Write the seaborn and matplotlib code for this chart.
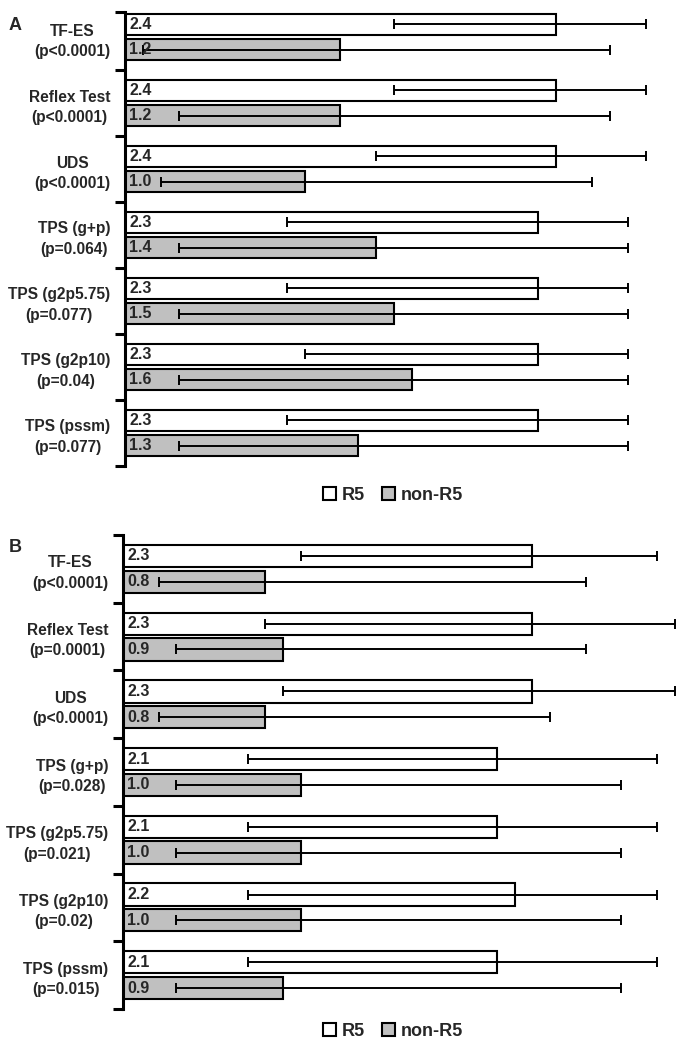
import matplotlib
matplotlib.use("Agg")
import matplotlib.pyplot as plt
from matplotlib.patches import Patch
import seaborn as sns
import pandas as pd
import numpy as np

# ---------------- data ----------------
categories_a = ["TF-ES\n(p<0.0001)", "Reflex Test\n(p<0.0001)", "UDS\n(p<0.0001)",
                "TPS (g+p)\n(p=0.064)", "TPS (g2p5.75)\n(p=0.077)", "TPS (g2p10)\n(p=0.04)",
                "TPS (pssm)\n(p=0.077)"]
r5_a = [2.4, 2.4, 2.4, 2.3, 2.3, 2.3, 2.3]
non_a = [1.2, 1.2, 1.0, 1.4, 1.5, 1.6, 1.3]
r5_low_a = [1.5, 1.5, 1.4, 0.9, 0.9, 1.0, 0.9]
r5_high_a = [2.9, 2.9, 2.9, 2.8, 2.8, 2.8, 2.8]
non_low_a = [0.1, 0.3, 0.2, 0.3, 0.3, 0.3, 0.3]
non_high_a = [2.7, 2.7, 2.6, 2.8, 2.8, 2.8, 2.8]

categories_b = ["TF-ES\n(p<0.0001)", "Reflex Test\n(p=0.0001)", "UDS\n(p<0.0001)",
                "TPS (g+p)\n(p=0.028)", "TPS (g2p5.75)\n(p=0.021)", "TPS (g2p10)\n(p=0.02)",
                "TPS (pssm)\n(p=0.015)"]
r5_b = [2.3, 2.3, 2.3, 2.1, 2.1, 2.2, 2.1]
non_b = [0.8, 0.9, 0.8, 1.0, 1.0, 1.0, 0.9]
r5_low_b = [1.0, 0.8, 0.9, 0.7, 0.7, 0.7, 0.7]
r5_high_b = [3.0, 3.1, 3.1, 3.0, 3.0, 3.0, 3.0]
non_low_b = [0.2, 0.3, 0.2, 0.3, 0.3, 0.3, 0.3]
non_high_b = [2.6, 2.6, 2.4, 2.8, 2.8, 2.8, 2.8]

groups = ["R5", "non-R5"]
colors = {"R5": "white", "non-R5": "#c0c0c0"}

sns.set_style("white")
plt.rcParams['font.family'] = ['Liberation Sans', 'DejaVu Sans']
plt.rcParams['font.weight'] = 'bold'

fig = plt.figure(figsize=(6.81, 10.43), dpi=100)
W, H = 681, 1043


def draw(ax, cats, r5, non, r5lo, r5hi, nlo, nhi, ytop):
    df = pd.DataFrame({"cat": cats * 2, "val": r5 + non,
                       "grp": ["R5"] * len(cats) + ["non-R5"] * len(cats)})
    sns.barplot(data=df, x="val", y="cat", hue="grp", order=cats, hue_order=groups,
                palette=colors, edgecolor="black", linewidth=1.5, width=0.76, gap=0.13,
                errorbar=None, legend=False, orient="h", ax=ax, saturation=1)
    for cont, vals, lo, hi in zip(ax.containers, [r5, non], [r5lo, nlo], [r5hi, nhi]):
        ys = [p.get_y() + p.get_height() / 2 for p in cont.patches]
        v = np.array(vals)
        xerr = [v - np.array(lo), np.array(hi) - v]
        ax.errorbar(v, ys, xerr=xerr, fmt="none", ecolor="black", elinewidth=1.4,
                    capsize=3.3, capthick=1.4, clip_on=False, zorder=3)
        for val, y in zip(vals, ys):
            ax.annotate(f"{val:.1f}", xy=(0, y), xytext=(3, 0), textcoords="offset points",
                        va="center", ha="left", fontsize=11.5, fontweight="bold", zorder=4)
    n = len(cats)
    ax.set_ylim(n - 0.5, ytop)
    ax.set_xlim(0, 3.0)
    ax.set_xlabel("")
    ax.set_ylabel("")
    ax.set_xticks([])
    ax.set_yticks(range(n))
    ax.set_yticklabels(cats, fontsize=11.2, fontweight="bold", multialignment="center",
                       linespacing=1.45)
    ax.set_yticks([ytop] + [i + 0.5 for i in range(n)], minor=True)
    ax.tick_params(axis="y", which="major", length=0, pad=10.5)
    ax.tick_params(axis="y", which="minor", length=7, width=2.2, direction="out",
                   color="black", left=True)
    for s in ["top", "right", "bottom"]:
        ax.spines[s].set_visible(False)
    ax.spines["left"].set_linewidth(2.2)
    ax.spines["left"].set_color("black")


# Panel A
pitch_a = 66.0
ytop_a = -0.375
top_px_a = 70 - (0.5 - ytop_a) * pitch_a
axA = fig.add_axes([125 / W, 1 - 466 / H, 538.5 / W, (466 - top_px_a) / H])
draw(axA, categories_a, r5_a, non_a, r5_low_a, r5_high_a, non_low_a, non_high_a, ytop_a)

# Panel B
axB = fig.add_axes([123 / W, 1 - 1009 / H, 534 / W, (1009 - 535) / H])
draw(axB, categories_b, r5_b, non_b, r5_low_b, r5_high_b, non_low_b, non_high_b, -0.5)

fig.text(15 / W, 1 - 25 / H, "A", fontsize=13, fontweight="bold", ha="center", va="center")
fig.text(15 / W, 1 - 547 / H, "B", fontsize=13, fontweight="bold", ha="center", va="center")

handles = [Patch(facecolor=colors[g], edgecolor="black", linewidth=1.5, label=g) for g in groups]
for yc in [495, 1031]:
    fig.legend(handles=handles, loc="center", bbox_to_anchor=(393 / W, 1 - yc / H), ncol=2,
               frameon=False, handlelength=0.7, handleheight=0.7,
               handletextpad=0.3, columnspacing=1.0, prop={"weight": "bold", "size": 13})

fig.savefig("out.png", dpi=100)
